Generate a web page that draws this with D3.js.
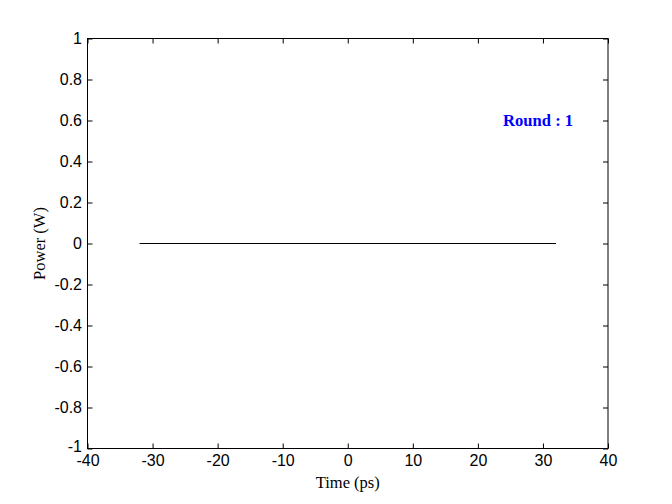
<!DOCTYPE html>
<html><head><meta charset="utf-8">
<script src="https://cdn.jsdelivr.net/npm/d3@7"></script>
<style>body{margin:0;background:#fff}svg{display:block}</style>
</head><body>
<script>
const timePs = [-32, 32];
const powerW = [0, 0];
const xTicks = [-40,-30,-20,-10,0,10,20,30,40];
const yTicks = [-1,-0.8,-0.6,-0.4,-0.2,0,0.2,0.4,0.6,0.8,1];
const annotation = "Round : 1";

const W=672,H=504, m={l:87.5,r:64,t:38.5,b:55.5};
const svg=d3.select("body").append("svg").attr("width",W).attr("height",H);
const x=d3.scaleLinear().domain([-40,40]).range([m.l,W-m.r]);
const y=d3.scaleLinear().domain([-1,1]).range([H-m.b,m.t]);
const font="'Liberation Sans', Arial, sans-serif";
const serif="'Liberation Serif', 'Times New Roman', serif";
const fmt=d=>String(+d.toFixed(1));

function styleAxis(g,hideLabels){
  g.select(".domain").remove();
  g.selectAll("line").attr("stroke","#000");
  g.selectAll("text").attr("font-family",font).attr("font-size",16).attr("fill","#000");
  if(hideLabels) g.selectAll("text").remove();
}
svg.append("g").attr("transform",`translate(0,${H-m.b})`)
  .call(d3.axisBottom(x).tickValues(xTicks).tickSizeInner(-5).tickSizeOuter(0).tickPadding(6).tickFormat(fmt))
  .call(g=>styleAxis(g,false));
svg.append("g").attr("transform",`translate(0,${m.t})`)
  .call(d3.axisTop(x).tickValues(xTicks).tickSizeInner(-5).tickSizeOuter(0))
  .call(g=>styleAxis(g,true));
svg.append("g").attr("transform",`translate(${m.l},0)`)
  .call(d3.axisLeft(y).tickValues(yTicks).tickSizeInner(-5).tickSizeOuter(0).tickPadding(5.5).tickFormat(fmt))
  .call(g=>styleAxis(g,false))
  .call(g=>g.selectAll(".tick").filter(d=>d===-1).select("text").attr("dy","0.2em"));
svg.append("g").attr("transform",`translate(${W-m.r},0)`)
  .call(d3.axisRight(y).tickValues(yTicks).tickSizeInner(-5).tickSizeOuter(0))
  .call(g=>styleAxis(g,true));

svg.append("rect").attr("x",m.l).attr("y",m.t).attr("width",W-m.r-m.l).attr("height",H-m.b-m.t)
  .attr("fill","none").attr("stroke","#000").attr("stroke-width",1);

const pts=timePs.map((t,i)=>[t,powerW[i]]);
svg.append("path").datum(pts).attr("fill","none").attr("stroke","#000").attr("stroke-width",1)
  .attr("d",d3.line().x(d=>x(d[0])).y(d=>y(d[1])));

svg.append("text").attr("x",(m.l+W-m.r)/2).attr("y",488).attr("text-anchor","middle")
  .attr("font-family",serif).attr("font-size",16.5).text("Time (ps)");
svg.append("text").attr("transform",`translate(45,${(m.t+H-m.b)/2}) rotate(-90)`).attr("text-anchor","middle")
  .attr("font-family",serif).attr("font-size",16.5).text("Power (W)");
svg.append("text").attr("x",x(23.87)).attr("y",y(0.573)).attr("font-family",serif).attr("font-weight","bold")
  .attr("font-size",16.6).attr("fill","#0000ff").text(annotation);
</script>
</body></html>
